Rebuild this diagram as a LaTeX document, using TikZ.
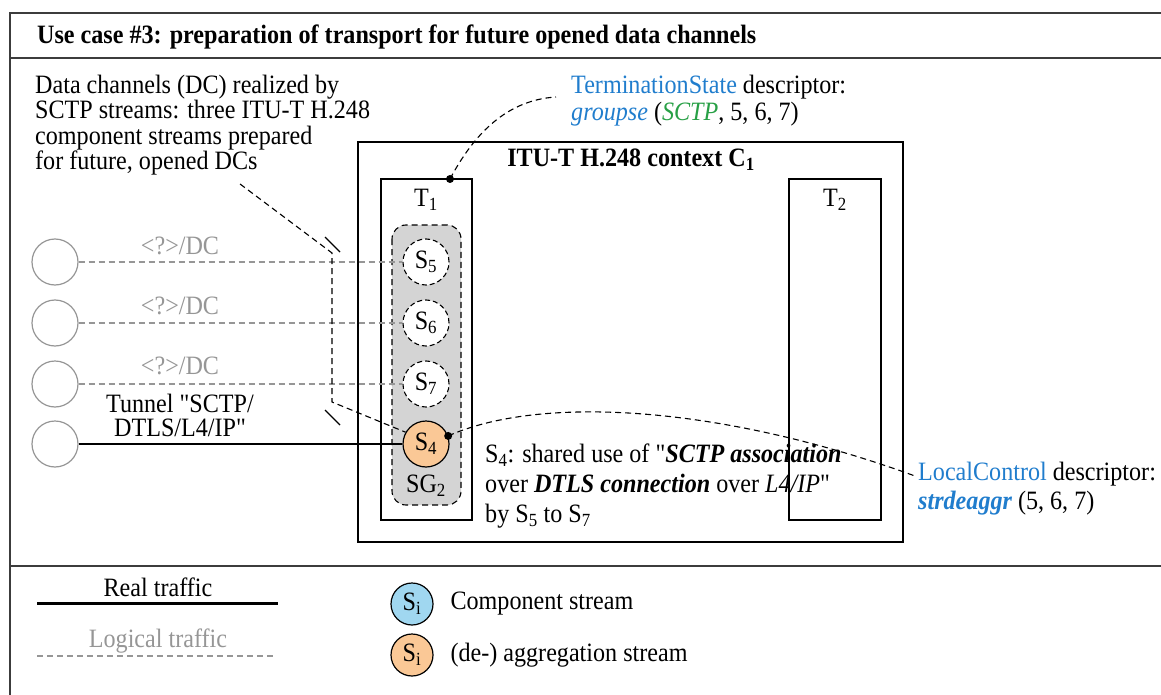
\documentclass[tikz,border=0pt]{standalone}
\usepackage{fontspec}
\setmainfont{Liberation Serif}[FakeStretch=0.91, Ligatures=TeXOff]
\usetikzlibrary{calc}

\definecolor{descblue}{RGB}{32,125,205}
\definecolor{sctpgreen}{RGB}{40,160,70}
\definecolor{aggorange}{RGB}{250,200,150}
\definecolor{compblue}{RGB}{160,215,240}
\definecolor{groupgray}{RGB}{212,212,212}
\definecolor{logicgray}{RGB}{150,150,150}
\definecolor{framegray}{RGB}{60,60,60}

\newcommand\lowidx[1]{\textsubscript{#1}}
\newcommand\dq{\symbol{34}}
\newcommand\txtsize{\fontsize{26.5}{25.3}\selectfont}

\begin{document}
\begin{tikzpicture}[x=1pt,y=-1pt,
  every node/.style={font=\txtsize},
  frameline/.style={draw=framegray, line width=2pt},
  boxline/.style={draw, line width=1.4pt},
  dashlead/.style={draw, line width=1.1pt, dash pattern=on 6pt off 4pt},
  logical/.style={draw=logicgray, line width=1.1pt, dash pattern=on 6pt off 4pt},
  real/.style={draw, line width=1.6pt},
  endpoint/.style={circle, draw=logicgray, line width=1.2pt, minimum size=46pt, inner sep=0pt},
  compstream/.style={circle, draw, line width=1.1pt, dash pattern=on 5pt off 3pt, fill=white, minimum size=46pt, inner sep=0pt},
  aggstream/.style={circle, draw, line width=1.2pt, fill=aggorange, minimum size=46pt, inner sep=0pt},
  legcircle/.style={circle, draw, line width=1.2pt, minimum size=42pt, inner sep=0pt},
  tip/.style={circle, fill, inner sep=0pt, minimum size=8pt}
]
\useasboundingbox (0,0) rectangle (1161,695);

% outer frame with title row and legend row
\draw[frameline] (1161,13) -- (10,13) -- (10,695);
\draw[frameline] (10,58) -- (1161,58);
\draw[frameline] (10,566) -- (1161,566);
\node[anchor=west, font=\bfseries\txtsize, inner sep=0pt] (title) at (37,37)
  {Use case \#3: preparation of transport for future opened data channels};

% context and terminations
\draw[boxline] (358,142) rectangle (903,542);
\node[font=\bfseries\txtsize] (ctxlabel) at (631,160) {ITU-T H.248 context C\lowidx{1}};
\draw[boxline] (381,179) rectangle (472,520);
\draw[boxline] (789,179) rectangle (881,520);
\node (t1) at (426,200) {T\lowidx{1}};
\node (t2) at (835,200) {T\lowidx{2}};

% stream group SG2
\draw[fill=groupgray, line width=1.1pt, dash pattern=on 6pt off 4pt, rounded corners=14pt]
  (392,225) rectangle (461,505);
\node (sg2) at (426,486) {SG\lowidx{2}};

% streams
\node[compstream] (s5) at (426,262) {S\lowidx{5}};
\node[compstream] (s6) at (426,323) {S\lowidx{6}};
\node[compstream] (s7) at (426,384) {S\lowidx{7}};
\node[aggstream]  (s4) at (426,444) {S\lowidx{4}};

% remote endpoints
\node[endpoint] (e5) at (55,262) {};
\node[endpoint] (e6) at (55,323) {};
\node[endpoint] (e7) at (55,384) {};
\node[endpoint] (e4) at (55,444) {};

% logical data channels and the real tunnel
\draw[logical] (e5) -- (s5);
\draw[logical] (e6) -- (s6);
\draw[logical] (e7) -- (s7);
\draw[real] (e4) -- (s4);
\node[text=logicgray] (dc5) at (180,246) {<?>/DC};
\node[text=logicgray] (dc6) at (180,306) {<?>/DC};
\node[text=logicgray] (dc7) at (180,366) {<?>/DC};
\node[align=center, font=\fontsize{26.5}{24}\selectfont] (tunnel) at (180,415)
  {Tunnel \dq SCTP/\\DTLS/L4/IP\dq};

% note on the data channels, with its bracket
\node[anchor=north west, align=left, inner sep=0pt] (dcnote) at (35,75)
  {Data channels (DC) realized by\\SCTP streams: three ITU-T H.248\\component streams prepared\\for future, opened DCs};
\coordinate (brtop) at (332,253);
\coordinate (brbot) at (332,402);
\coordinate (leadstart) at (240,184);
\draw[dashlead] (leadstart) -- (brtop) -- (brbot) -- (s4.150);
\draw[line width=1.1pt] (325,237) -- (340,252);
\draw[line width=1.1pt] (325,410) -- (340,425);

% TerminationState descriptor
\node[anchor=north west, align=left, inner sep=0pt, font=\fontsize{26.5}{27}\selectfont] (tsdesc) at (571,75)
  {{\color{descblue}TerminationState} descriptor:\\{\color{descblue}\itshape groupse} ({\color{sctpgreen}\itshape SCTP}, 5, 6, 7)};
\node[tip] (tsdot) at (450,179) {};
\coordinate (tsend) at (556,97);
\draw[dashlead] (tsdot.center) .. controls (475,132) and (508,100) .. (tsend);

% LocalControl descriptor
\node[anchor=north west, align=left, inner sep=0pt, font=\fontsize{26.5}{29}\selectfont] (lcdesc) at (918,462)
  {{\color{descblue}LocalControl} descriptor:\\{\color{descblue}\bfseries\itshape strdeaggr} (5, 6, 7)};
\node[tip] (lcdot) at (s4.20) {};
\coordinate (lcend) at (915,476);
\draw[dashlead] (lcdot.center) .. controls (540,395) and (720,405) .. (lcend);

% explanation of S4
\node[anchor=north west, align=left, inner sep=0pt, font=\fontsize{26.5}{30}\selectfont] (s4note) at (485,444)
  {S\lowidx{4}: shared use of \dq\textbf{\textit{SCTP association}}\\over \textbf{\textit{DTLS connection}} over \textit{L4/IP}\dq\\by S\lowidx{5} to S\lowidx{7}};

% legend
\node (realtxt) at (158,587) {Real traffic};
\coordinate (reala) at (37,603);
\coordinate (realb) at (278,603);
\draw[line width=3pt] (reala) -- (realb);
\node[text=logicgray] (logtxt) at (158,641) {Logical traffic};
\coordinate (loga) at (37,656);
\coordinate (logb) at (276,656);
\draw[logical] (loga) -- (logb);
\node[legcircle, fill=compblue] (legcomp) at (412,604) {S\lowidx{i}};
\node[anchor=west] (legcomptxt) at (447,604) {Component stream};
\node[legcircle, fill=aggorange] (legagg) at (412,655) {S\lowidx{i}};
\node[anchor=west] (legaggtxt) at (447,655) {(de-) aggregation stream};
\end{tikzpicture}
\end{document}
